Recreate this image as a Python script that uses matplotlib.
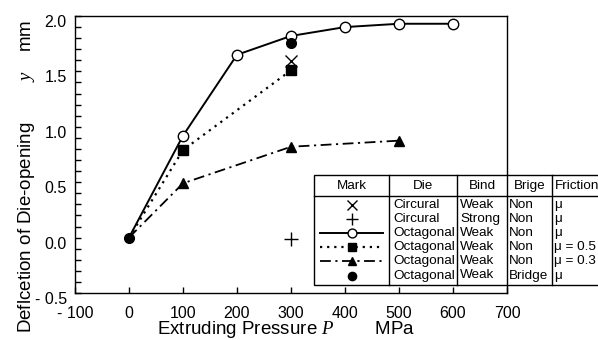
import matplotlib
matplotlib.use("Agg")
import matplotlib.pyplot as plt
import matplotlib.transforms as mtransforms
from matplotlib.ticker import MultipleLocator, FuncFormatter

# ==== DATA ====
P_oct = [0, 100, 200, 300, 400, 500, 600]
y_oct = [0.0, 0.92, 1.65, 1.82, 1.90, 1.93, 1.93]
P_mu05 = [0, 100, 300]
y_mu05 = [0.0, 0.79, 1.51]
P_mu03 = [0, 100, 300, 500]
y_mu03 = [0.0, 0.49, 0.82, 0.875]
P_circ_weak = [300]
y_circ_weak = [1.59]
P_circ_strong = [300]
y_circ_strong = [-0.01]
P_bridge = [0, 300]
y_bridge = [0.0, 1.76]

headers = ["Mark", "Die", "Bind", "Brige", "Friction"]
dies = ["Circural", "Circural", "Octagonal", "Octagonal", "Octagonal", "Octagonal"]
binds = ["Weak", "Strong", "Weak", "Weak", "Weak", "Weak"]
bridges = ["Non", "Non", "Non", "Non", "Non", "Bridge"]
frictions = ["μ", "μ", "μ", "μ = 0.5", "μ = 0.3", "μ"]
# ==============

plt.rcParams['font.family'] = ['Liberation Sans', 'DejaVu Sans']
plt.rcParams['mathtext.fontset'] = 'custom'
plt.rcParams['mathtext.it'] = 'Liberation Serif:italic'
plt.rcParams['mathtext.rm'] = 'Liberation Sans'

# styles for each series (also used for the table marks)
st_cw = dict(ls='none', marker='x', ms=8, mew=1.0, color='black')
st_cs = dict(ls='none', marker='+', ms=10, mew=1.0, color='black')
st_oct = dict(ls='-', lw=1.4, marker='o', ms=7.5, mfc='white', mec='black', mew=1.0, color='black')
st_mu05 = dict(ls=(0, (1, 2.2)), lw=1.6, marker='s', ms=7, mfc='black', mec='black', color='black')
st_mu03 = dict(ls=(0, (6, 2.5, 1.2, 2.5)), lw=1.3, marker='^', ms=7, mfc='black', mec='black', color='black')
st_br = dict(ls='none', marker='o', ms=7, mfc='black', mec='black', color='black')

fig = plt.figure(figsize=(5.98, 3.40), dpi=100)
ax = fig.add_axes([75/598, 47/340, 432/598, 277/340])

ax.plot(P_oct, y_oct, markevery=range(1, len(P_oct)), zorder=3, **st_oct)
ax.plot(P_mu05, y_mu05, markevery=range(1, len(P_mu05)), zorder=3, **st_mu05)
ax.plot(P_mu03, y_mu03, markevery=range(1, len(P_mu03)), zorder=3, **st_mu03)
ax.plot(P_circ_weak, y_circ_weak, zorder=4, **st_cw)
ax.plot(P_circ_strong, y_circ_strong, zorder=4, **st_cs)
ax.plot(P_bridge, y_bridge, zorder=4, **st_br)

ax.set_xlim(-100, 700)
ax.set_ylim(-0.5, 2.0)
ax.xaxis.set_major_locator(MultipleLocator(100))
ax.yaxis.set_major_locator(MultipleLocator(0.5))
ax.yaxis.set_minor_locator(MultipleLocator(0.1))
ax.xaxis.set_major_formatter(FuncFormatter(lambda v, p: f"{v:.0f}".replace("-", "- ")))
ax.yaxis.set_major_formatter(FuncFormatter(lambda v, p: f"{v:.1f}".replace("-", "- ")))
ax.tick_params(axis='both', which='both', direction='in', length=4, width=1.0,
               labelsize=11.5, top=False, right=False)
ax.tick_params(axis='x', pad=9)
ax.tick_params(axis='y', pad=6)
# tick labels of the y axis sit a little below the ticks in the original
off = mtransforms.ScaledTranslation(0, -0.05, fig.dpi_scale_trans)
for lab in ax.get_yticklabels():
    lab.set_transform(lab.get_transform() + off)
for s in ax.spines.values():
    s.set_linewidth(1.0)

ax.set_xlabel("Extruding Pressure $P$        MPa", fontsize=13.5)
ax.xaxis.set_label_coords(0.49, -0.094)
ax.set_ylabel("Deflcetion of Die-opening        $y$    mm", fontsize=13.5)
ax.yaxis.set_label_coords(-0.088, 0.42)

# ---- table-legend, drawn in pixel coordinates ----
tab = fig.add_axes([0, 0, 1, 1], zorder=10)
tab.set_xlim(0, 598)
tab.set_ylim(340, 0)
tab.axis('off')

left, top, head_bot, bottom, right = 314, 175, 196, 285, 640
col_x = [left, 389, 457, 507, 552, right]
tab.add_patch(plt.Rectangle((left, top), right - left, bottom - top,
                            fc='white', ec='black', lw=1.0))
tab.plot([left, right], [head_bot, head_bot], color='black', lw=1.0)
for cx in col_x[1:-1]:
    tab.plot([cx, cx], [top, bottom], color='black', lw=1.0)

fs = 9.7
for i, h in enumerate(headers):
    if i < 4:
        tab.text((col_x[i] + col_x[i + 1]) / 2, (top + head_bot) / 2 + 0.5, h,
                 ha='center', va='center', fontsize=fs)
    else:
        tab.text(col_x[i] + 3, (top + head_bot) / 2 + 0.5, h,
                 ha='left', va='center', fontsize=fs)

row_y = [205 + 14.1 * k for k in range(6)]
for k in range(6):
    tab.text(col_x[1] + 4, row_y[k], dies[k], ha='left', va='center', fontsize=fs)
    tab.text(col_x[2] + 3, row_y[k], binds[k], ha='left', va='center', fontsize=fs)
    tab.text(col_x[3] + 1.5, row_y[k], bridges[k], ha='left', va='center', fontsize=fs)
    tab.text(col_x[4] + 2.5, row_y[k], frictions[k], ha='left', va='center', fontsize=fs)

mx = (col_x[0] + col_x[1]) / 2
styles = [st_cw, st_cs, st_oct, st_mu05, st_mu03, st_br]
for k, st in enumerate(styles):
    st2 = dict(st)
    st2['ms'] = st['ms'] * 0.85
    if st['ls'] == 'none':
        tab.plot([mx], [row_y[k]], **st2)
    else:
        tab.plot([320, mx, 383], [row_y[k]] * 3, markevery=[1], **st2)

fig.savefig("out.png", dpi=100)
